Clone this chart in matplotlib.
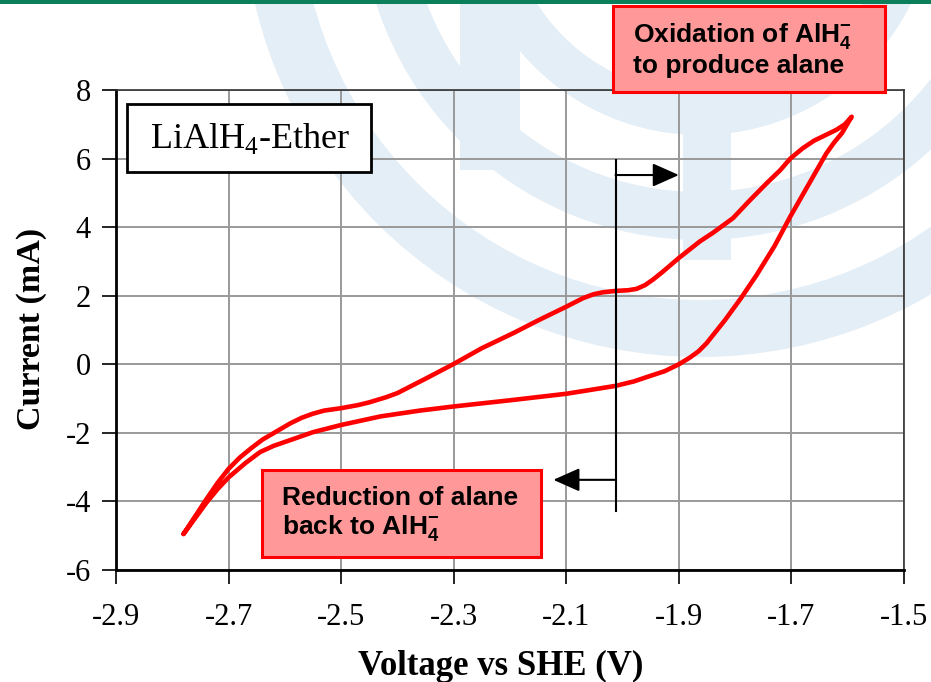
import numpy as np
import matplotlib
matplotlib.use("Agg")
import matplotlib.pyplot as plt
from matplotlib.patches import Rectangle, Wedge

# cyclic voltammogram, LiAlH4 in ether
# anodic sweep (upper branch) then the return sweep (lower branch)
voltage = [-2.78, -2.76, -2.74, -2.72, -2.70, -2.68, -2.66, -2.64, -2.615, -2.59,
           -2.57, -2.55, -2.53, -2.50, -2.47, -2.45, -2.42, -2.40, -2.35, -2.30,
           -2.25, -2.194, -2.15, -2.10, -2.07, -2.052, -2.035, -2.0125, -1.99, -1.975,
           -1.96, -1.946, -1.93, -1.90, -1.863, -1.839, -1.804, -1.774, -1.744, -1.72,
           -1.702, -1.68, -1.66, -1.64, -1.62, -1.605, -1.593,
           -1.61, -1.625, -1.638, -1.67, -1.702, -1.73, -1.762, -1.79, -1.818, -1.851,
           -1.865, -1.88, -1.90, -1.925, -1.951, -1.98, -2.0125, -2.10, -2.20, -2.30,
           -2.36, -2.43, -2.50, -2.55, -2.585, -2.62, -2.644, -2.67, -2.70, -2.72, -2.74,
           -2.76, -2.78]
current = [-4.95, -4.45, -3.95, -3.47, -3.05, -2.72, -2.45, -2.20, -1.96, -1.72,
           -1.56, -1.44, -1.35, -1.28, -1.19, -1.11, -0.96, -0.84, -0.42, 0.01,
           0.47, 0.91, 1.28, 1.68, 1.93, 2.04, 2.10, 2.14, 2.16, 2.20,
           2.31, 2.47, 2.68, 3.10, 3.58, 3.84, 4.26, 4.78, 5.28, 5.66,
           6.00, 6.30, 6.52, 6.68, 6.84, 7.00, 7.22,
           6.75, 6.45, 6.15, 5.23, 4.31, 3.45, 2.60, 1.92, 1.29, 0.61,
           0.38, 0.20, 0.00, -0.20, -0.34, -0.50, -0.63, -0.86, -1.05, -1.23,
           -1.35, -1.52, -1.77, -1.98, -2.18, -2.38, -2.56, -2.88, -3.30, -3.65, -4.05,
           -4.50, -4.95]

x_ticks = [-2.9, -2.7, -2.5, -2.3, -2.1, -1.9, -1.7, -1.5]
y_ticks = [-6, -4, -2, 0, 2, 4, 6, 8]

split_v = -2.0125          # vertical marker between the two processes
marker_top, marker_bottom = 5.96, -4.29
arrow_right = (5.52, -1.90)
arrow_left = (-3.37, -2.123)

plt.rcParams['axes.unicode_minus'] = False
plt.rcParams['mathtext.fontset'] = 'custom'
plt.rcParams['mathtext.rm'] = 'Liberation Serif'
plt.rcParams['mathtext.bf'] = 'Liberation Sans:bold'

W, H = 931, 682
fig = plt.figure(figsize=(W / 100, H / 100), dpi=100)

# background: green rule + pale watermark, drawn in pixel coords
bg = fig.add_axes([0, 0, 1, 1], zorder=-5)
bg.set_xlim(0, W)
bg.set_ylim(H, 0)
bg.axis('off')
wm = '#E4EEF6'
cx, cy = 700, -100
for r, w in [(457, 57), (340, 48), (235, 42)]:
    bg.add_patch(Wedge((cx, cy), r, 0, 180, width=w, color=wm, lw=0))
bg.add_patch(Rectangle((460, 0), 60, 170, color=wm, lw=0))
bg.add_patch(Rectangle((683, 100), 48, 160, color=wm, lw=0))
bg.add_patch(Rectangle((0, 0), W, 3.5, color='#0B7F5A', lw=0))

ax = fig.add_axes([116 / W, 1 - 570 / H, (904 - 116) / W, (570 - 90) / H])
ax.patch.set_alpha(0)

ax.plot(voltage, current, color='#FF0000', lw=3.3, solid_capstyle='round',
        solid_joinstyle='round', zorder=4)

ax.set_xlim(-2.9, -1.5)
ax.set_ylim(-6, 8)
ax.set_xticks(x_ticks)
ax.set_yticks(y_ticks)
ax.set_xticklabels([f"{v:.1f}" for v in x_ticks])
ax.set_yticklabels([str(v) for v in y_ticks])
ax.grid(True, color='#999999', lw=1.4)
ax.set_axisbelow(True)
ax.tick_params(axis='x', direction='out', length=10, width=1.2, pad=14,
               labelsize=22, labelfontfamily='Liberation Serif')
ax.tick_params(axis='y', direction='out', length=10, width=1.2, pad=8,
               labelsize=22, labelfontfamily='Liberation Serif')
for side in ['left', 'bottom']:
    ax.spines[side].set_linewidth(2)
    ax.spines[side].set_color('black')
for side in ['top', 'right']:
    ax.spines[side].set_linewidth(1.2)
    ax.spines[side].set_color('#333333')

fig.text(501 / W, 1 - 675 / H, 'Voltage vs SHE (V)', ha='center', va='baseline',
         fontsize=25, fontweight='bold', family='Liberation Serif')
fig.text(32 / W, 1 - 329 / H, 'Current (mA)', ha='center', va='center', rotation=90,
         fontsize=24.5, fontweight='bold', family='Liberation Serif')

# marker line and arrows
ax.plot([split_v, split_v], [marker_bottom, marker_top], color='black', lw=1.5, zorder=5)
for yv, xv in [arrow_right, arrow_left]:
    ax.annotate('', xy=(xv, yv), xytext=(split_v, yv),
                arrowprops=dict(arrowstyle='-|>,head_length=0.9,head_width=0.4',
                                color='black', lw=1.5, mutation_scale=18,
                                shrinkA=0, shrinkB=0), zorder=5)

# labels / boxes in pixel coords on an overlay
ov = fig.add_axes([0, 0, 1, 1], zorder=10)
ov.set_xlim(0, W)
ov.set_ylim(H, 0)
ov.axis('off')

ov.add_patch(Rectangle((127, 104), 244, 68, facecolor='white', edgecolor='black', lw=2))
ov.text(250, 139, r'LiAlH$_4$-Ether', ha='center', va='center', fontsize=26,
        family='Liberation Serif')

box_kw = dict(facecolor='#FF9999', edgecolor='#FF0000', lw=2.2)
txt_kw = dict(ha='left', va='baseline', fontsize=19, fontweight='bold',
              family='Liberation Sans')
ov.add_patch(Rectangle((613, 6), 272, 86, **box_kw))
ov.text(633, 43, r'Oxidation of AlH$_{\mathbf{4}}^{\mathbf{-}}$', **txt_kw)
ov.text(633, 73, 'to produce alane', **txt_kw)

ov.add_patch(Rectangle((262, 470), 279, 87, **box_kw))
ov.text(282, 505, 'Reduction of alane', **txt_kw)
ov.text(282, 535, r'back to AlH$_{\mathbf{4}}^{\mathbf{-}}$', **txt_kw)

fig.savefig('out.png', dpi=100)
